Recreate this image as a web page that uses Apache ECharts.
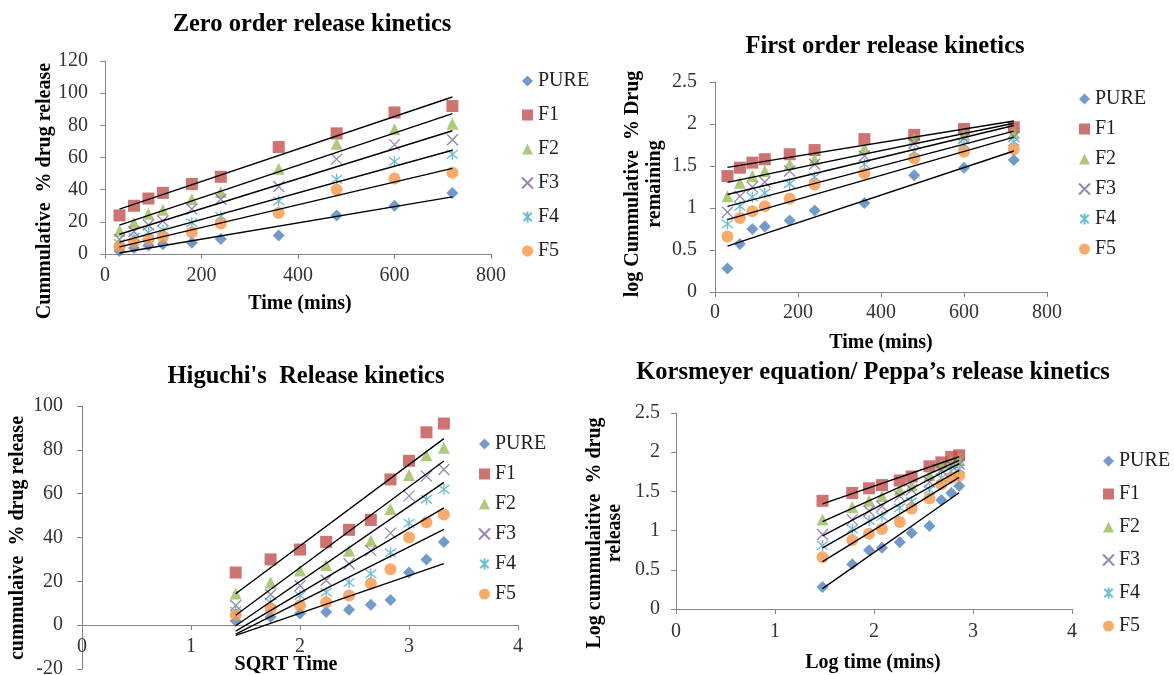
<!DOCTYPE html>
<html>
<head>
<meta charset="utf-8">
<script src="https://cdn.jsdelivr.net/npm/echarts@6/dist/echarts.min.js"></script>
<style>
  html, body { margin: 0; padding: 0; background: #ffffff; }
  #chart { width: 1174px; height: 675px; }
</style>
</head>
<body>
<div id="chart"></div>
<script>
// ---- data -------------------------------------------------------------
const seriesNames = ['PURE', 'F1', 'F2', 'F3', 'F4', 'F5'];

// sampling times and their transforms used on the x axes
const timeMins = [30, 60, 90, 120, 180, 240, 360, 480, 600, 720];
const sqrtTime = [1.41, 1.73, 2, 2.24, 2.45, 2.65, 2.83, 3, 3.16, 3.32];
const logTime  = [1.48, 1.78, 1.95, 2.08, 2.26, 2.38, 2.56, 2.68, 2.78, 2.86];

// tick labels of the Higuchi time axis, written under its y = 0 line
const higuchiTickValues = [0, 1, 2, 3, 4];
const higuchiTickLabels = ['0', '1', '2', '3', '4'];

// cumulative % drug release
const releasePURE = [1.9, 3.7, 5.3, 6, 7, 9.3, 11.5, 24, 30, 38];
const releaseF1   = [24, 30, 34.5, 38, 43.5, 48, 66.5, 75, 88, 92];
const releaseF2   = [14.5, 19.5, 25, 27.5, 34, 38.5, 53, 68.5, 77.5, 81];
const releaseF3   = [9, 14, 18, 20.5, 28, 34, 42, 59, 68, 71];
const releaseF4   = [6.5, 10.5, 13.5, 15, 19.5, 23.5, 33, 46.5, 57.5, 62];
const releaseF5   = [4.6, 7.5, 9, 10.5, 13.5, 19, 25.5, 40, 47, 50.5];

// log of cumulative % drug release
const logReleasePURE = [0.28, 0.57, 0.75, 0.78, 0.85, 0.97, 1.06, 1.39, 1.48, 1.57];
const logReleaseF1   = [1.38, 1.48, 1.54, 1.58, 1.64, 1.69, 1.82, 1.87, 1.94, 1.96];
const logReleaseF2   = [1.14, 1.30, 1.38, 1.44, 1.52, 1.58, 1.71, 1.83, 1.88, 1.90];
const logReleaseF3   = [0.95, 1.14, 1.25, 1.31, 1.44, 1.52, 1.62, 1.77, 1.83, 1.85];
const logReleaseF4   = [0.81, 1.02, 1.13, 1.18, 1.29, 1.37, 1.52, 1.67, 1.76, 1.79];
const logReleaseF5   = [0.66, 0.88, 0.96, 1.02, 1.11, 1.28, 1.41, 1.59, 1.67, 1.70];

const releaseSets    = [releasePURE, releaseF1, releaseF2, releaseF3, releaseF4, releaseF5];
const logReleaseSets = [logReleasePURE, logReleaseF1, logReleaseF2, logReleaseF3, logReleaseF4, logReleaseF5];

// ---- styling ----------------------------------------------------------
const FONT = '"Liberation Serif", "Times New Roman", serif';
const AXIS_GRAY = '#868686';
const LABEL_COLOR = '#333';
const colors  = ['#4F81BD', '#C0504D', '#9BBB59', '#8064A2', '#4BACC6', '#F79646'];
const symbols = [
  'diamond',
  'rect',
  'triangle',
  'path://M0,0L10,10M10,0L0,10',
  'path://M0,0L10,10M10,0L0,10M5,-1.5L5,11.5',
  'circle'
];
const outlineOnly = [false, false, false, true, true, false];

// least-squares trend line across the sampled range
function trendLine(xs, ys) {
  const n = xs.length;
  const mx = xs.reduce((a, b) => a + b, 0) / n;
  const my = ys.reduce((a, b) => a + b, 0) / n;
  let sxy = 0, sxx = 0;
  for (let i = 0; i < n; i++) {
    sxy += (xs[i] - mx) * (ys[i] - my);
    sxx += (xs[i] - mx) * (xs[i] - mx);
  }
  const b = sxy / sxx, a = my - b * mx;
  return [[xs[0], a + b * xs[0]], [xs[n - 1], a + b * xs[n - 1]]];
}

// ---- panels -----------------------------------------------------------
const panels = [
  { xs: timeMins, ys: releaseSets,
    grid: { left: 105, top: 61, width: 386, height: 193 },
    x: [0, 800, 200], y: [0, 120, 20], xMargin: 12, yMargin: 17,
    legend: { left: 516, top: 66, itemGap: 14 } },
  { xs: timeMins, ys: logReleaseSets,
    grid: { left: 715, top: 82, width: 332, height: 210 },
    x: [0, 800, 200], y: [0, 2.5, 0.5], xMargin: 11, yMargin: 18,
    legend: { left: 1073, top: 84, itemGap: 10 } },
  { xs: sqrtTime, ys: releaseSets,
    grid: { left: 82, top: 406, width: 436, height: 263 },
    x: [0, 4, 1], y: [-20, 100, 20], xMargin: 15, yMargin: 19,
    hideX: true,
    legend: { left: 473, top: 429, itemGap: 10 } },
  { xs: logTime, ys: logReleaseSets,
    grid: { left: 676, top: 413, width: 396, height: 196 },
    x: [0, 4, 1], y: [0, 2.5, 0.5], xMargin: 13, yMargin: 16,
    legend: { left: 1097, top: 446, itemGap: 13 } }
];

function axisCommon(margin) {
  return {
    type: 'value',
    splitLine: { show: false },
    axisLine: { show: true, onZero: false, lineStyle: { color: AXIS_GRAY, width: 1 } },
    axisTick: { show: true, length: 5, lineStyle: { color: AXIS_GRAY } },
    axisLabel: { fontFamily: FONT, fontSize: 20, color: LABEL_COLOR, margin: margin }
  };
}

const grids = [], xAxes = [], yAxes = [], legends = [], series = [];

panels.forEach((p, k) => {
  grids.push(Object.assign({ containLabel: false, outerBoundsMode: 'none' }, p.grid));
  const xa = Object.assign(axisCommon(p.xMargin), {
    gridIndex: k, position: 'bottom', min: p.x[0], max: p.x[1], interval: p.x[2]
  });
  if (p.hideX) xa.show = false;
  xAxes.push(xa);
  yAxes.push(Object.assign(axisCommon(p.yMargin), {
    gridIndex: k, min: p.y[0], max: p.y[1], interval: p.y[2]
  }));
  legends.push({
    orient: 'vertical',
    left: p.legend.left, top: p.legend.top, itemGap: p.legend.itemGap,
    itemWidth: 11, itemHeight: 11,
    textStyle: { fontFamily: FONT, fontSize: 20, color: '#222', lineHeight: 20 },
    data: seriesNames,
    selectedMode: false
  });

  seriesNames.forEach((name, i) => {
    const ys = p.ys[i];
    const pts = p.xs.map((x, j) => [x, ys[j]]);
    series.push({
      name: name,
      type: 'scatter',
      xAxisIndex: k, yAxisIndex: k,
      symbol: symbols[i],
      symbolSize: outlineOnly[i] ? 11 : 12,
      itemStyle: outlineOnly[i]
        ? { color: 'rgba(0,0,0,0)', borderColor: colors[i], borderWidth: 1.3 }
        : { color: colors[i] },
      data: pts,
      z: 2
    });
    series.push({
      name: name + ' linear',
      type: 'line',
      xAxisIndex: k, yAxisIndex: k,
      data: trendLine(p.xs, ys),
      showSymbol: false,
      symbol: 'none',
      silent: true,
      lineStyle: { color: '#000', width: 1.4 },
      z: 3
    });
  });
});

// Higuchi panel: its time axis runs along y = 0, so an overlay grid spanning
// 100 down to 0 carries the axis line and ticks on its bottom edge.
const hg = panels[2];
const zeroFrac = (hg.y[1] - 0) / (hg.y[1] - hg.y[0]);
grids.push({
  left: hg.grid.left, top: hg.grid.top, width: hg.grid.width,
  height: Math.round(hg.grid.height * zeroFrac),
  containLabel: false, outerBoundsMode: 'none'
});
const hgAxis = Object.assign(axisCommon(hg.xMargin), {
  gridIndex: 4, position: 'bottom', min: hg.x[0], max: hg.x[1], interval: hg.x[2]
});
hgAxis.axisLabel = { show: false };
xAxes.push(hgAxis);
yAxes.push({ type: 'value', gridIndex: 4, show: false, min: 0, max: hg.y[1] });

// titles and axis names
function label(text, x, y, size, opts) {
  opts = opts || {};
  return {
    type: 'text', x: x, y: y, rotation: opts.rotate ? Math.PI / 2 : 0, silent: true,
    zlevel: opts.zlevel || 0, z: 50,
    style: {
      text: text, x: 0, y: 0, align: 'center', verticalAlign: 'middle',
      fontFamily: FONT, fontSize: size, fontWeight: opts.plain ? 'normal' : 'bold',
      fill: opts.plain ? LABEL_COLOR : '#000',
      lineHeight: opts.lineHeight || size + 2
    }
  };
}

const graphics = [
  label('Zero order release kinetics', 312, 25, 24.5),
  label('First order release kinetics', 885, 47, 24.5),
  label("Higuchi's  Release kinetics", 306, 377, 24.5),
  label('Korsmeyer equation/ Peppa\u2019s release kinetics', 873, 373, 24.5),

  label('Time (mins)', 300, 304, 20),
  label('Time (mins)', 881, 343, 20),
  label('SQRT Time', 286, 665, 20, { lineHeight: 12 }),
  label('Log time (mins)', 873, 663, 20),

  label('Cummulative  % drug release', 45, 191, 20, { rotate: true }),
  label('log Cummulative  % Drug\nremaining', 644, 184, 20, { rotate: true, lineHeight: 22 }),
  label('cummulaive  % drug release', 18, 538, 20, { rotate: true }),
  label('Log cummulaitive  % drug\nrelease', 605, 533, 20, { rotate: true, lineHeight: 20 })
];

const chart = echarts.init(document.getElementById('chart'), null, { renderer: 'canvas' });
chart.setOption({
  backgroundColor: '#ffffff',
  animation: false,
  grid: grids,
  xAxis: xAxes,
  yAxis: yAxes,
  legend: legends,
  series: series,
  graphic: graphics
});

// Higuchi time-axis labels, placed from the axis scale just under y = 0
const higuchiLabels = higuchiTickValues.map((v, i) => {
  const pt = chart.convertToPixel({ xAxisIndex: 2, yAxisIndex: 2 }, [v, 0]);
  return label(higuchiTickLabels[i], pt[0], pt[1] + 22, 20,
    { plain: true, lineHeight: 12, zlevel: 1 });
});
chart.setOption({ graphic: graphics.concat(higuchiLabels) });
</script>
</body>
</html>
